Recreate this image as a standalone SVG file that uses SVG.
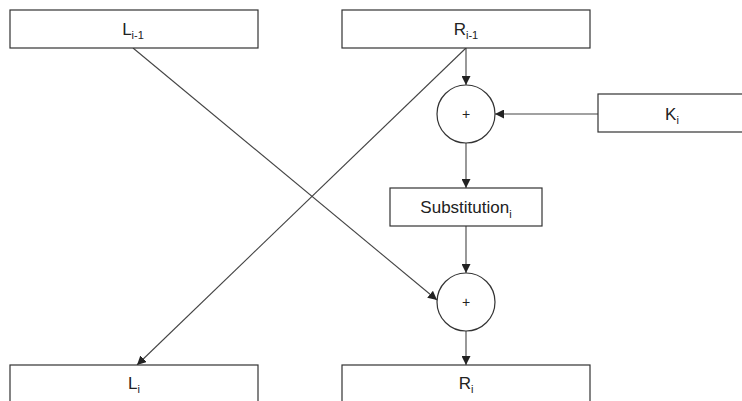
<svg xmlns="http://www.w3.org/2000/svg" width="742" height="401" viewBox="0 0 742 401">
<style>
.box{fill:#fff;stroke:#333;stroke-width:1.2}
.lbl{font-family:"Liberation Sans",Arial,sans-serif;font-size:17px;fill:#222;text-anchor:middle}
.sub{font-size:11px}
.c{fill:none;stroke:#444;stroke-width:1.1}
</style>
<defs>
<marker id="ah" viewBox="0 0 10 10" refX="10" refY="5" markerWidth="9" markerHeight="9" markerUnits="userSpaceOnUse" orient="auto">
<path d="M0,0 L10,5 L0,10 z" fill="#222"/>
</marker>
</defs>
<rect width="742" height="401" fill="#fff"/>
<g id="connectors">
<line class="c" x1="133" y1="48" x2="437" y2="300" marker-end="url(#ah)"/>
<line class="c" x1="466" y1="48" x2="137" y2="365" marker-end="url(#ah)"/>
<line class="c" x1="466" y1="48" x2="466" y2="85" marker-end="url(#ah)"/>
<line class="c" x1="598" y1="114" x2="495" y2="114" marker-end="url(#ah)"/>
<line class="c" x1="466" y1="143" x2="466" y2="188" marker-end="url(#ah)"/>
<line class="c" x1="466" y1="226" x2="466" y2="273" marker-end="url(#ah)"/>
<line class="c" x1="466" y1="331" x2="466" y2="365" marker-end="url(#ah)"/>
</g>
<g id="L_prev">
<rect class="box" x="10" y="10" width="248" height="38"/>
<text class="lbl" x="133" y="35">L<tspan class="sub" dy="4">i-1</tspan></text>
</g>
<g id="R_prev">
<rect class="box" x="342" y="10" width="248" height="38"/>
<text class="lbl" x="466" y="35">R<tspan class="sub" dy="4">i-1</tspan></text>
</g>
<g id="xor1">
<circle class="box" cx="466" cy="114" r="29"/>
<text class="lbl" x="466" y="119" style="font-size:14px">+</text>
</g>
<g id="K">
<rect class="box" x="598" y="94" width="150" height="38"/>
<text class="lbl" x="672" y="120">K<tspan class="sub" dy="4">i</tspan></text>
</g>
<g id="Subst">
<rect class="box" x="390" y="188" width="152" height="38"/>
<text class="lbl" x="466" y="213">Substitution<tspan class="sub" dy="5">i</tspan></text>
</g>
<g id="xor2">
<circle class="box" cx="466" cy="302" r="29"/>
<text class="lbl" x="466" y="307" style="font-size:14px">+</text>
</g>
<g id="L_next">
<rect class="box" x="10" y="365" width="248" height="40"/>
<text class="lbl" x="134" y="389">L<tspan class="sub" dy="4">i</tspan></text>
</g>
<g id="R_next">
<rect class="box" x="342" y="365" width="248" height="40"/>
<text class="lbl" x="466" y="389">R<tspan class="sub" dy="4">i</tspan></text>
</g>
</svg>
